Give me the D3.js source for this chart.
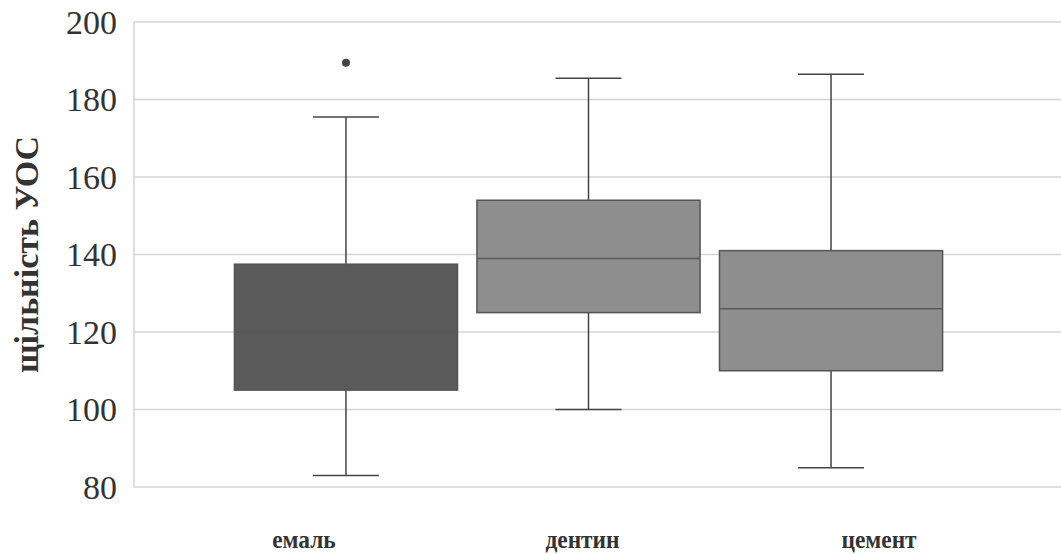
<!DOCTYPE html>
<html>
<head>
<meta charset="utf-8">
<script src="https://cdn.jsdelivr.net/npm/d3@7"></script>
<style>
  body { margin: 0; background: #fff; }
  svg { display: block; }
</style>
</head>
<body>
<div id="chart"></div>
<script>
// box plot: density by tissue

const categories = ["емаль", "дентин", "цемент"];
const whiskerLow = [83, 100, 85];
const q1 = [105, 125, 110];
const median = [120, 139, 126];
const q3 = [137.5, 154, 141];
const whiskerHigh = [175.5, 185.5, 186.5];
const outliers = [[189.5], [], []];
const boxColors = ["#5a5a5a", "#8e8e8e", "#8e8e8e"];
const yTicks = [80, 100, 120, 140, 160, 180, 200];
// labels in the original sit a bit off the box centres
const labelShift = [-42, -6, 48];

const width = 1061;
const height = 555;
const margin = { top: 22, right: 0, bottom: 68, left: 134 };
const serif = "'Liberation Serif', 'DejaVu Serif', serif";

const svg = d3.select("#chart")
  .append("svg")
  .attr("width", width)
  .attr("height", height);

const y = d3.scaleLinear()
  .domain([80, 200])
  .range([height - margin.bottom, margin.top]);

const x = d3.scalePoint()
  .domain(categories)
  .range([margin.left, 1043])
  .padding(0.874);

const boxW = x.step() * 0.92;
const capW = 66;

// grid
svg.append("g")
  .selectAll("line")
  .data(yTicks)
  .enter().append("line")
  .attr("x1", margin.left)
  .attr("x2", width)
  .attr("y1", d => y(d))
  .attr("y2", d => y(d))
  .attr("stroke", "#d4d4d4")
  .attr("stroke-width", 1.5);

svg.append("line")
  .attr("x1", margin.left).attr("x2", margin.left)
  .attr("y1", y(200)).attr("y2", y(80))
  .attr("stroke", "#d4d4d4")
  .attr("stroke-width", 1.5);

// y tick labels
svg.append("g")
  .selectAll("text")
  .data(yTicks)
  .enter().append("text")
  .attr("x", margin.left - 17)
  .attr("y", d => y(d))
  .attr("dy", "0.35em")
  .attr("text-anchor", "end")
  .attr("font-family", serif)
  .attr("font-size", "34px")
  .attr("fill", "#333")
  .text(d => d);

// y title
svg.append("text")
  .attr("transform", `translate(38, ${(y(80) + y(200)) / 2}) rotate(-90)`)
  .attr("text-anchor", "middle")
  .attr("font-family", serif)
  .attr("font-size", "34px")
  .attr("font-weight", "bold")
  .attr("fill", "#333")
  .text("щільність УОС");

// x labels (narrow serif look)
svg.append("g")
  .selectAll("text")
  .data(categories)
  .enter().append("text")
  .attr("transform", (d, i) => `translate(${x(d) + labelShift[i]}, 548) scale(0.9, 1)`)
  .attr("text-anchor", "middle")
  .attr("font-family", serif)
  .attr("font-size", "26px")
  .attr("font-weight", "bold")
  .attr("fill", "#333")
  .text(d => d);

const boxes = svg.append("g")
  .selectAll("g")
  .data(categories)
  .enter().append("g");

// whiskers
boxes.append("line")
  .attr("x1", d => x(d)).attr("x2", d => x(d))
  .attr("y1", (d, i) => y(whiskerHigh[i]))
  .attr("y2", (d, i) => y(whiskerLow[i]))
  .attr("stroke", "#444")
  .attr("stroke-width", 1.5);

boxes.selectAll(".cap")
  .data((d, i) => [{ c: d, v: whiskerLow[i] }, { c: d, v: whiskerHigh[i] }])
  .enter().append("line")
  .attr("class", "cap")
  .attr("x1", d => x(d.c) - capW / 2)
  .attr("x2", d => x(d.c) + capW / 2)
  .attr("y1", d => y(d.v))
  .attr("y2", d => y(d.v))
  .attr("stroke", "#444")
  .attr("stroke-width", 1.5);

// boxes
boxes.append("rect")
  .attr("x", d => x(d) - boxW / 2)
  .attr("width", boxW)
  .attr("y", (d, i) => y(q3[i]))
  .attr("height", (d, i) => y(q1[i]) - y(q3[i]))
  .attr("fill", (d, i) => boxColors[i])
  .attr("stroke", "#555")
  .attr("stroke-width", 1.5);

boxes.append("line")
  .attr("x1", d => x(d) - boxW / 2)
  .attr("x2", d => x(d) + boxW / 2)
  .attr("y1", (d, i) => y(median[i]))
  .attr("y2", (d, i) => y(median[i]))
  .attr("stroke", (d, i) => i === 0 ? "#575757" : "#5a5a5a")
  .attr("stroke-width", 1.5);

// outliers
boxes.selectAll(".out")
  .data((d, i) => outliers[i].map(v => ({ c: d, v })))
  .enter().append("circle")
  .attr("class", "out")
  .attr("cx", d => x(d.c))
  .attr("cy", d => y(d.v))
  .attr("r", 4)
  .attr("fill", "#444");
</script>
</body>
</html>
